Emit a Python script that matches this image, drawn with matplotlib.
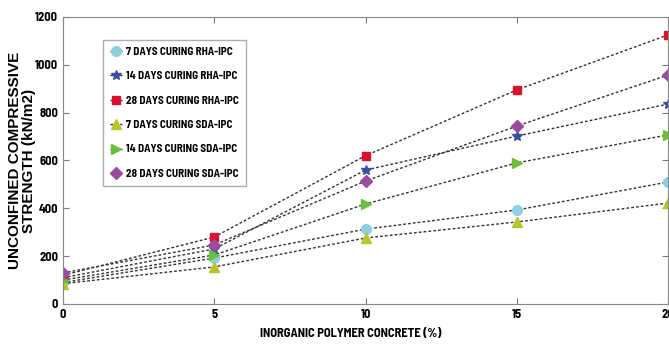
import matplotlib.pyplot as plt

pct = [0, 5, 10, 15, 20]

rha_7 = [90, 192, 313, 393, 510]
rha_14 = [110, 230, 560, 702, 836]
rha_28 = [120, 280, 620, 895, 1125]
sda_7 = [85, 155, 276, 343, 422]
sda_14 = [100, 205, 418, 590, 707]
sda_28 = [130, 247, 514, 744, 957]

labels = ['7 DAYS CURING RHA-IPC', '14 DAYS CURING RHA-IPC', '28 DAYS CURING RHA-IPC',
          '7 DAYS CURING SDA-IPC', '14 DAYS CURING SDA-IPC', '28 DAYS CURING SDA-IPC']
series = [rha_7, rha_14, rha_28, sda_7, sda_14, sda_28]
markers = ['o', '*', 's', '^', '>', 'D']
colors = ['#8ecfe0', '#3a4fa0', '#d8112f', '#b7c42a', '#6cbf3a', '#9a4b9e']
sizes = [7, 7, 6, 7, 7, 6]

plt.rcParams['font.family'] = ['Barlow Semi Condensed', 'Liberation Sans', 'DejaVu Sans']
plt.rcParams['font.weight'] = 'bold'

fig = plt.figure(figsize=(6.69, 3.44), dpi=100)
ax = fig.add_axes([63/669, 40/344, 605/669, 287/344])

for y, lab, m, c, s in zip(series, labels, markers, colors, sizes):
    ax.plot(pct, y, linestyle=(0, (2, 1.5)), color='#333333', linewidth=1,
            marker=m, markersize=s, markerfacecolor=c, markeredgecolor=c, label=lab)

ax.set_xlim(0, 20)
ax.set_ylim(0, 1200)
ax.set_xticks([0, 5, 10, 15, 20])
ax.set_yticks([0, 200, 400, 600, 800, 1000, 1200])
ax.tick_params(direction='in', top=True, right=True, labelsize=9, color='#777777', length=4)
for sp in ax.spines.values():
    sp.set_color('#888888')
for t in ax.get_xticklabels() + ax.get_yticklabels():
    t.set_fontweight('bold')

ax.set_xlabel('INORGANIC POLYMER CONCRETE (%)', fontsize=9, fontweight='bold')
ax.xaxis.set_label_coords(0.476, -0.085)
ax.set_ylabel('UNCONFINED COMPRESSIVE\nSTRENGTH (kN/m2)', fontsize=11, fontweight='bold',
              family=['Liberation Sans', 'DejaVu Sans'], linespacing=1.0)
ax.yaxis.set_label_coords(-0.045, 0.5)

leg = ax.legend(loc='upper left', bbox_to_anchor=(0.066, 0.92), borderaxespad=0,
                frameon=True, fancybox=False, edgecolor='#999999', handlelength=1.1,
                handletextpad=0.4, labelspacing=1.3, borderpad=0.6,
                prop={'weight': 'bold', 'size': 8})

plt.savefig('out.png', dpi=100)
